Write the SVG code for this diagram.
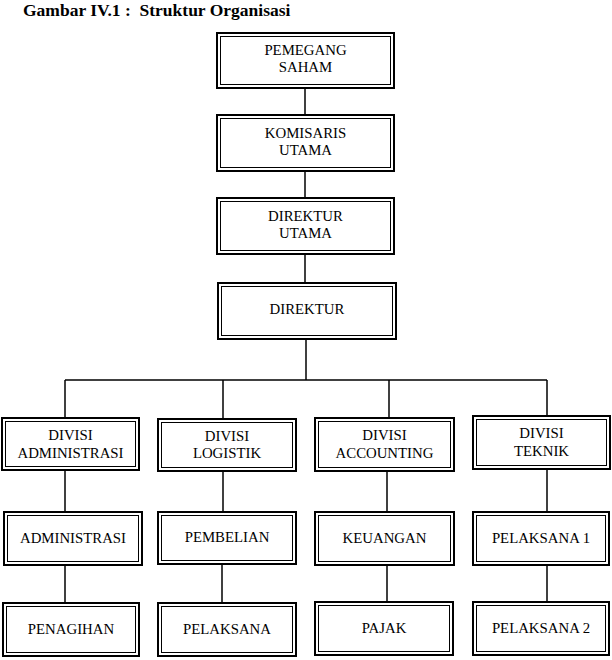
<svg xmlns="http://www.w3.org/2000/svg" width="612" height="660" viewBox="0 0 612 660">
<style>
.o{fill:#fff;stroke:#000;stroke-width:2}
.i{fill:none;stroke:#000;stroke-width:1}
.t{font-family:"Liberation Serif","Times New Roman",serif;font-size:14.8px;text-anchor:middle;fill:#000}
.ttl{font-family:"Liberation Serif","Times New Roman",serif;font-size:17.5px;font-weight:bold;fill:#000}
.c{fill:none;stroke:#000;stroke-width:1.5}
</style>
<rect width="612" height="660" fill="#fff"/>
<text class="ttl" x="23" y="16" xml:space="preserve">Gambar IV.1 :  Struktur Organisasi</text>
<g id="connectors">
<line class="c" x1="305" y1="89" x2="305" y2="114"/>
<line class="c" x1="305" y1="172" x2="305" y2="197"/>
<line class="c" x1="305" y1="255" x2="305" y2="282"/>
<line class="c" x1="306" y1="340" x2="306" y2="380"/>
<line class="c" x1="65" y1="380" x2="547" y2="380"/>
<line class="c" x1="65" y1="380" x2="65" y2="417"/>
<line class="c" x1="223" y1="380" x2="223" y2="418"/>
<line class="c" x1="389" y1="380" x2="389" y2="417"/>
<line class="c" x1="547" y1="380" x2="547" y2="415"/>
<line class="c" x1="65" y1="471" x2="65" y2="511"/>
<line class="c" x1="223" y1="472" x2="223" y2="511"/>
<line class="c" x1="387" y1="472" x2="387" y2="511"/>
<line class="c" x1="547" y1="470" x2="547" y2="511"/>
<line class="c" x1="65" y1="566" x2="65" y2="602"/>
<line class="c" x1="222" y1="565" x2="222" y2="602"/>
<line class="c" x1="387" y1="566" x2="387" y2="601"/>
<line class="c" x1="547" y1="566" x2="547" y2="601"/>
</g>
<g id="pemegang-saham">
<rect class="o" x="217" y="33" width="177" height="55"/><rect class="i" x="220.5" y="36.5" width="170" height="48"/>
<text class="t" x="305.5" y="55">PEMEGANG</text><text class="t" x="305.5" y="72">SAHAM</text>
</g>
<g id="komisaris-utama">
<rect class="o" x="217" y="115" width="177" height="56"/><rect class="i" x="220.5" y="118.5" width="170" height="49"/>
<text class="t" x="305.5" y="138">KOMISARIS</text><text class="t" x="305.5" y="155">UTAMA</text>
</g>
<g id="direktur-utama">
<rect class="o" x="217" y="198" width="177" height="56"/><rect class="i" x="220.5" y="201.5" width="170" height="49"/>
<text class="t" x="305.5" y="221">DIREKTUR</text><text class="t" x="305.5" y="238">UTAMA</text>
</g>
<g id="direktur">
<rect class="o" x="218" y="283" width="178" height="56"/><rect class="i" x="221.5" y="286.5" width="171" height="49"/>
<text class="t" x="307" y="314">DIREKTUR</text>
</g>
<g id="divisi-administrasi">
<rect class="o" x="2" y="418" width="137" height="52"/><rect class="i" x="5.5" y="421.5" width="130" height="45"/>
<text class="t" x="70.5" y="440">DIVISI</text><text class="t" x="70.5" y="458">ADMINISTRASI</text>
</g>
<g id="divisi-logistik">
<rect class="o" x="158" y="419" width="138" height="52"/><rect class="i" x="161.5" y="422.5" width="131" height="45"/>
<text class="t" x="227" y="441">DIVISI</text><text class="t" x="227" y="458">LOGISTIK</text>
</g>
<g id="divisi-accounting">
<rect class="o" x="315" y="418" width="139" height="53"/><rect class="i" x="318.5" y="421.5" width="132" height="46"/>
<text class="t" x="384.5" y="440">DIVISI</text><text class="t" x="384.5" y="458">ACCOUNTING</text>
</g>
<g id="divisi-teknik">
<rect class="o" x="473" y="416" width="137" height="53"/><rect class="i" x="476.5" y="419.5" width="130" height="46"/>
<text class="t" x="541.5" y="438">DIVISI</text><text class="t" x="541.5" y="456">TEKNIK</text>
</g>
<g id="administrasi">
<rect class="o" x="4" y="512" width="138" height="53"/><rect class="i" x="7.5" y="515.5" width="131" height="46"/>
<text class="t" x="73" y="543">ADMINISTRASI</text>
</g>
<g id="pembelian">
<rect class="o" x="158" y="512" width="138" height="52"/><rect class="i" x="161.5" y="515.5" width="131" height="45"/>
<text class="t" x="227" y="542">PEMBELIAN</text>
</g>
<g id="keuangan">
<rect class="o" x="315" y="512" width="139" height="53"/><rect class="i" x="318.5" y="515.5" width="132" height="46"/>
<text class="t" x="384.5" y="543">KEUANGAN</text>
</g>
<g id="pelaksana-1">
<rect class="o" x="473" y="512" width="136" height="53"/><rect class="i" x="476.5" y="515.5" width="129" height="46"/>
<text class="t" x="541" y="543">PELAKSANA 1</text>
</g>
<g id="penagihan">
<rect class="o" x="3" y="603" width="136" height="53"/><rect class="i" x="6.5" y="606.5" width="129" height="46"/>
<text class="t" x="71" y="634">PENAGIHAN</text>
</g>
<g id="pelaksana">
<rect class="o" x="158" y="603" width="138" height="53"/><rect class="i" x="161.5" y="606.5" width="131" height="46"/>
<text class="t" x="227" y="634">PELAKSANA</text>
</g>
<g id="pajak">
<rect class="o" x="315" y="602" width="138" height="53"/><rect class="i" x="318.5" y="605.5" width="131" height="46"/>
<text class="t" x="384" y="633">PAJAK</text>
</g>
<g id="pelaksana-2">
<rect class="o" x="473" y="602" width="136" height="53"/><rect class="i" x="476.5" y="605.5" width="129" height="46"/>
<text class="t" x="541" y="633">PELAKSANA 2</text>
</g>
</svg>
